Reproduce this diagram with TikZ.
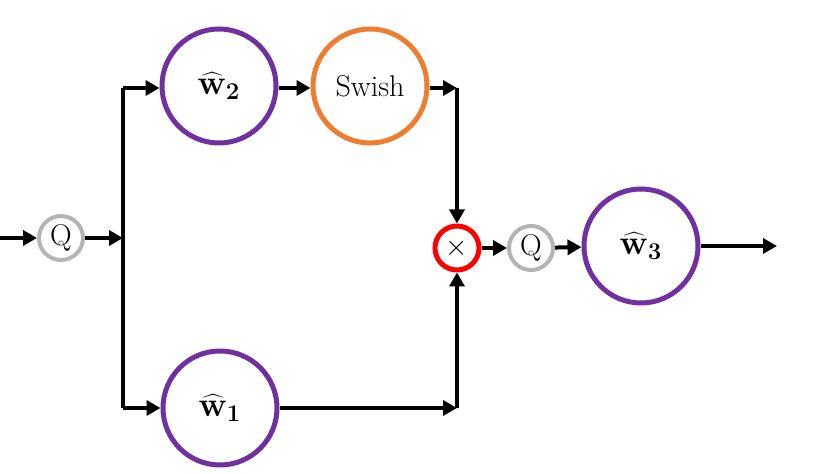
\documentclass[tikz,border=0pt]{standalone}
\usetikzlibrary{positioning, arrows.meta}
\definecolor{wpurple}{RGB}{112, 48, 160}
\definecolor{actorange}{RGB}{237, 125, 49}
\definecolor{qgray}{RGB}{180, 180, 180}

\begin{document}
\begin{tikzpicture}[x=0.5pt, y=-0.5pt,
                wnode/.style={circle, draw=wpurple, line width=2.5pt, minimum size=57pt,
                    inner sep=0pt, font=\fontsize{17}{20}\selectfont},
                qnode/.style={circle, draw=qgray, line width=2pt, minimum size=22pt,
                    inner sep=0pt, font=\fontsize{15}{18}\selectfont},
                opnode/.style={circle, draw=red, line width=2.5pt, minimum size=22pt,
                    inner sep=0pt, font=\fontsize{15}{18}\selectfont},
                flow/.style={line width=2pt, -{Triangle[length=7pt, width=7.5pt]}},
                bus/.style={line width=2pt}
            ]
            \useasboundingbox (0,0) rectangle (830,474);

            \node[qnode] (qin) at (61,238) {Q};
            \node[wnode] (w2) at (219,86) {$\widehat{\mathbf{w}}_{\mathbf{2}}$};
            \node[wnode, draw=actorange, font=\fontsize{15}{18}\selectfont] (swish) at (370,86) {Swish};
            \node[wnode] (w1) at (220,408) {$\widehat{\mathbf{w}}_{\mathbf{1}}$};
            \node[opnode] (mul) at (457,248) {$\times$};
            \node[qnode] (qout) at (531,248) {Q};
            \node[wnode] (w3) at (641,246) {$\widehat{\mathbf{w}}_{\mathbf{3}}$};

            \coordinate (in) at (0,238);
            \coordinate (split) at (123,238);
            \coordinate (bustop) at (123,88);
            \coordinate (busbot) at (123,408);
            \coordinate (jtop) at (457,88);
            \coordinate (jbot) at (457,408);
            \coordinate (out) at (777,246);

            \draw[bus] (bustop) -- (busbot);
            \draw[flow] (in) -- (qin);
            \draw[flow] (qin) -- (split);
            \draw[flow] (bustop) -- (bustop -| w2.west);
            \draw[flow] (busbot) -- (w1);
            \draw[flow] (w2.east |- bustop) -- (swish.west |- bustop);
            \draw[flow] (swish.east |- jtop) -- (jtop);
            \draw[flow] (jtop) -- (mul);
            \draw[flow] (w1) -- (jbot);
            \draw[flow] (jbot) -- (mul);
            \draw[flow] (mul) -- (qout);
            \draw[flow] (qout) -- (w3);
            \draw[flow] (w3) -- (out);
\end{tikzpicture}
\end{document}
